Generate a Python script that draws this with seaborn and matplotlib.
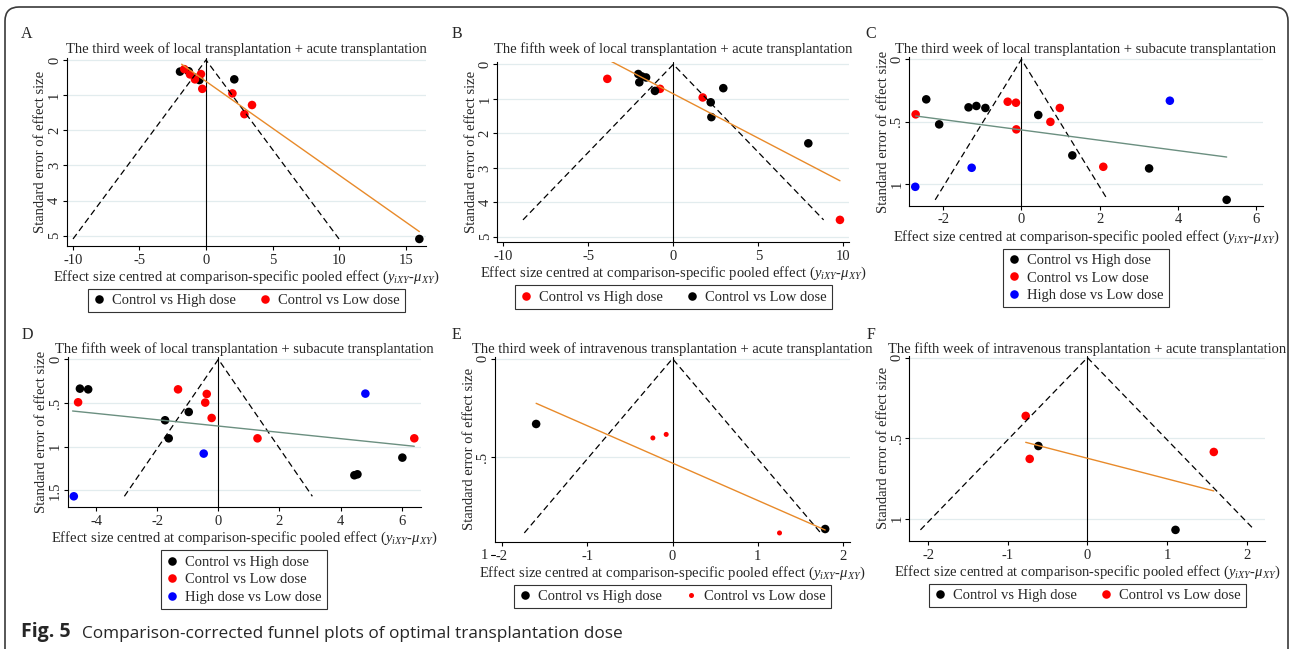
import numpy as np
import pandas as pd
import matplotlib
matplotlib.use("Agg")
import matplotlib.pyplot as plt
import seaborn as sns
from matplotlib.lines import Line2D
from matplotlib.patches import FancyBboxPatch
from matplotlib.transforms import IdentityTransform, blended_transform_factory

# group names
HIGH = "Control vs High dose"
LOW = "Control vs Low dose"
HL = "High dose vs Low dose"

# panel A: third week, local + acute
A_HIGH_X = [-1.95, -1.3, -0.5, 2.12, 16.0]
A_HIGH_SE = [0.33, 0.32, 0.57, 0.55, 5.09]
A_LOW_X = [-1.63, -1.2, -0.83, -0.38, -0.28, 1.98, 3.45, 2.88]
A_LOW_SE = [0.26, 0.41, 0.55, 0.40, 0.82, 0.95, 1.28, 1.54]
A_FIT_X = [-1.83, 16.0]
A_FIT_SE = [0.12, 4.88]

# panel B: fifth week, local + acute (colours swapped in the original)
B_HIGH_X = [-3.88, -0.78, 1.73, 9.80]
B_HIGH_SE = [0.42, 0.71, 0.96, 4.51]
B_LOW_X = [-2.06, -2.0, -1.6, -1.85, -1.08, 2.2, 2.24, 2.94, 7.94]
B_LOW_SE = [0.28, 0.52, 0.38, 0.35, 0.77, 1.10, 1.53, 0.69, 2.29]
B_FIT_X = [-3.88, 9.80]
B_FIT_SE = [-0.145, 3.375]

# panel C: third week, local + subacute
C_HIGH_X = [-2.43, -2.10, -1.35, -1.15, -0.92, 0.43, 1.30, 3.26, 5.24]
C_HIGH_SE = [0.32, 0.52, 0.384, 0.373, 0.389, 0.445, 0.768, 0.872, 1.123]
C_LOW_X = [-2.70, -0.35, -0.14, -0.13, 0.74, 0.98, 2.09]
C_LOW_SE = [0.44, 0.339, 0.347, 0.56, 0.50, 0.389, 0.859]
C_HL_X = [-2.71, -1.27, 3.79]
C_HL_SE = [1.019, 0.867, 0.331]
C_FIT_X = [-2.70, 5.24]
C_FIT_SE = [0.453, 0.781]

# panel D: fifth week, local + subacute
D_HIGH_X = [-4.53, -4.26, -1.745, -1.625, -0.97, 4.45, 4.55, 6.02]
D_HIGH_SE = [0.336, 0.344, 0.698, 0.905, 0.603, 1.328, 1.317, 1.126]
D_LOW_X = [-4.59, -1.32, -0.38, -0.43, -0.22, 1.28, 6.41]
D_LOW_SE = [0.492, 0.344, 0.397, 0.496, 0.672, 0.905, 0.905]
D_HL_X = [-4.73, -0.48, 4.81]
D_HL_SE = [1.569, 1.08, 0.393]
D_FIT_X = [-4.77, 6.41]
D_FIT_SE = [0.592, 0.996]

# panel E: third week, intravenous + acute
E_HIGH_X = [-1.598, 1.789]
E_HIGH_SE = [0.332, 0.866]
E_LOW_X = [-0.23, -0.074, 1.254]
E_LOW_SE = [0.403, 0.385, 0.886]
E_FIT_X = [-1.598, 1.789]
E_FIT_SE = [0.227, 0.871]

# panel F: fifth week, intravenous + acute
F_HIGH_X = [-0.616, 1.106]
F_HIGH_SE = [0.549, 1.070]
F_LOW_X = [-0.775, -0.725, 1.587]
F_LOW_SE = [0.362, 0.629, 0.586]
F_FIT_X = [-0.775, 1.587]
F_FIT_SE = [0.526, 0.828]

# ticks
A_XTICKS = [-10, -5, 0, 5, 10, 15]
A_YTICKS = [0, 1, 2, 3, 4, 5]
B_XTICKS = [-10, -5, 0, 5, 10]
B_YTICKS = [0, 1, 2, 3, 4, 5]
C_XTICKS = [-2, 0, 2, 4, 6]
C_YTICKS = [0, 0.5, 1]
C_YLABELS = ["0", ".5", "1"]
D_XTICKS = [-4, -2, 0, 2, 4, 6]
D_YTICKS = [0, 0.5, 1, 1.5]
D_YLABELS = ["0", ".5", "1", "1.5"]
E_XTICKS = [-2, -1, 0, 1, 2]
E_YTICKS = [0, 0.5]
E_YLABELS = ["0", ".5"]
F_XTICKS = [-2, -1, 0, 1, 2]
F_YTICKS = [0, 0.5, 1]
F_YLABELS = ["0", ".5", "1"]

TITLES = [
    "The third week of local transplantation + acute transplantation",
    "The fifth week of local transplantation + acute transplantation",
    "The third week of local transplantation + subacute transplantation",
    "The fifth week of local transplantation + subacute transplantation",
    "The third week of intravenous transplantation + acute transplantation",
    "The fifth week of intravenous transplantation + acute transplantation",
]

BLACK, RED, BLUE = "#000000", "#ff0000", "#0000ff"
ORANGE, GREEN = "#e88a2a", "#6b8f80"
BIG, SMALL = 38, 13

W, H = 1290, 649
sns.set_style("ticks")
plt.rcParams["font.family"] = ["Liberation Serif", "DejaVu Serif"]
plt.rcParams["mathtext.fontset"] = "custom"
plt.rcParams["mathtext.rm"] = "Liberation Serif"
plt.rcParams["mathtext.it"] = "Liberation Serif:italic"
FS = 10.5

fig = plt.figure(figsize=(W / 100, H / 100), dpi=100)

panels = [
    dict(letter="A", lpos=(21, 34), tbase=52.5, box=(66.7, 426, 58, 246), xlim=(-10.45, 16.5), ylim=(5.29, -0.057),
         xt=A_XTICKS, yt=A_YTICKS, ytl=[str(v) for v in A_YTICKS],
         groups=[(HIGH, BLACK, BIG, A_HIGH_X, A_HIGH_SE), (LOW, RED, BIG, A_LOW_X, A_LOW_SE)],
         fit=(A_FIT_X, A_FIT_SE, ORANGE), ncol=2),
    dict(letter="B", lpos=(452, 34), tbase=53, box=(497.3, 849.3, 62.3, 242.3), xlim=(-10.35, 10.35), ylim=(5.16, -0.06),
         xt=B_XTICKS, yt=B_YTICKS, ytl=[str(v) for v in B_YTICKS],
         groups=[(HIGH, RED, BIG, B_HIGH_X, B_HIGH_SE), (LOW, BLACK, BIG, B_LOW_X, B_LOW_SE)],
         fit=(B_FIT_X, B_FIT_SE, ORANGE), ncol=2),
    dict(letter="C", lpos=(865, 34), tbase=53, box=(909, 1262.7, 57.3, 205.7), xlim=(-2.87, 6.16), ylim=(1.17, -0.016),
         xt=C_XTICKS, yt=C_YTICKS, ytl=C_YLABELS,
         groups=[(HIGH, BLACK, BIG, C_HIGH_X, C_HIGH_SE), (LOW, RED, BIG, C_LOW_X, C_LOW_SE),
                 (HL, BLUE, BIG, C_HL_X, C_HL_SE)],
         fit=(C_FIT_X, C_FIT_SE, GREEN), ncol=1),
    dict(letter="D", lpos=(22, 335), tbase=352.5, box=(67.7, 420.7, 357.3, 507.3), xlim=(-4.93, 6.62), ylim=(1.695, -0.023),
         xt=D_XTICKS, yt=D_YTICKS, ytl=D_YLABELS,
         groups=[(HIGH, BLACK, BIG, D_HIGH_X, D_HIGH_SE), (LOW, RED, BIG, D_LOW_X, D_LOW_SE),
                 (HL, BLUE, BIG, D_HL_X, D_HL_SE)],
         fit=(D_FIT_X, D_FIT_SE, GREEN), ncol=1),
    dict(letter="E", lpos=(452, 335), tbase=352.5, box=(495, 850, 356.7, 542), xlim=(-2.08, 2.08), ylim=(0.932, -0.01),
         xt=E_XTICKS, yt=E_YTICKS, ytl=E_YLABELS,
         groups=[(HIGH, BLACK, BIG, E_HIGH_X, E_HIGH_SE), (LOW, RED, SMALL, E_LOW_X, E_LOW_SE)],
         fit=(E_FIT_X, E_FIT_SE, ORANGE), ncol=2, extra=(1.0, "1")),
    dict(letter="F", lpos=(867, 335), tbase=352.5, box=(909.3, 1265, 355.7, 541), xlim=(-2.237, 2.23), ylim=(1.139, -0.012),
         xt=F_XTICKS, yt=F_YTICKS, ytl=F_YLABELS,
         groups=[(HIGH, BLACK, BIG, F_HIGH_X, F_HIGH_SE), (LOW, RED, BIG, F_LOW_X, F_LOW_SE)],
         fit=(F_FIT_X, F_FIT_SE, ORANGE), ncol=2),
]

xlab = "Effect size centred at comparison-specific pooled effect (" + r"$y_{iXY}$" + "-" + r"$\mu_{XY}$" + ")"

for p, title in zip(panels, TITLES):
    x0, x1, yt_px, yb_px = p["box"]
    ax = fig.add_axes([x0 / W, 1 - yb_px / H, (x1 - x0) / W, (yb_px - yt_px) / H])

    rows = []
    for name, col, size, xs, ses in p["groups"]:
        for xv, sv in zip(xs, ses):
            rows.append({"effect": xv, "se": sv, "group": name})
    df = pd.DataFrame(rows)
    pal = {g[0]: g[1] for g in p["groups"]}
    sizes = {g[0]: g[2] for g in p["groups"]}
    sns.scatterplot(data=df, x="effect", y="se", hue="group", palette=pal, size="group", sizes=sizes,
                    linewidth=0, legend=False, ax=ax, zorder=3)

    # pseudo 95% limits around zero
    se_max = df["se"].max()
    ax.plot([-1.96 * se_max, 0, 1.96 * se_max], [se_max, 0, se_max], color="k", lw=0.9,
            ls=(0, (5, 3)), zorder=4)
    ax.axvline(0, color="k", lw=0.8, zorder=2)
    fx, fse, fcol = p["fit"]
    sns.lineplot(x=fx, y=fse, color=fcol, lw=1.0, ax=ax, zorder=5)

    ax.set_xlim(*p["xlim"])
    ax.set_ylim(*p["ylim"])
    ax.set_xticks(p["xt"])
    ax.set_xticklabels([str(v) for v in p["xt"]])
    ax.set_yticks(p["yt"])
    ax.set_yticklabels(p["ytl"], rotation=90, va="center")
    for v in p["yt"]:
        ax.axhline(v, color="#e2ecee", lw=0.9, zorder=0)
    sns.despine(ax=ax)
    for s in ["left", "bottom"]:
        ax.spines[s].set_linewidth(0.8)
        ax.spines[s].set_color("k")
    ax.tick_params(axis="both", direction="out", length=3, width=0.8, labelsize=FS, color="k")
    ax.tick_params(axis="x", pad=2.5)
    ax.tick_params(axis="y", pad=1)
    ax.set_xlabel(xlab, fontsize=FS, labelpad=1.5)
    ax.set_ylabel("Standard error of effect size", fontsize=FS, labelpad=0.5)
    fig.text(((x0 + x1) / 2) / W, 1 - p["tbase"] / H, title, fontsize=FS, ha="center", va="baseline")

    if "extra" in p:
        yv, lab = p["extra"]
        tr = blended_transform_factory(ax.transAxes, ax.transData)
        axw = x1 - x0
        ax.plot([0, -4 / axw], [yv, yv], transform=tr, color="k", lw=0.8, clip_on=False)
        ax.text(-7 / axw, yv, lab, transform=tr, ha="right", va="center",
                fontsize=FS, clip_on=False)

    handles = [Line2D([], [], marker="o", ls="", color=g[1], markeredgewidth=0,
                      markersize=np.sqrt(g[2]) * 1.0) for g in p["groups"]]
    leg = ax.legend(handles, [g[0] for g in p["groups"]], loc="upper center",
                    bbox_to_anchor=(((x0 + x1) / 2) / W, 1 - (yb_px + 43) / H),
                    bbox_transform=fig.transFigure, ncol=p["ncol"], fontsize=FS, frameon=True,
                    fancybox=False, edgecolor="#333333", framealpha=1, borderpad=0.35,
                    handlelength=0.8, handletextpad=0.5, columnspacing=1.6, labelspacing=0.3,
                    borderaxespad=0)
    leg.get_frame().set_linewidth(0.8)

    fig.text(p["lpos"][0] / W, 1 - p["lpos"][1] / H, p["letter"], fontsize=11.5, ha="left", va="center")

# caption
cap_font = ["Open Sans", "DejaVu Sans"]
t1 = fig.text(21 / W, 1 - 637.5 / H, "Fig. 5", fontsize=14, fontweight="bold", family=cap_font,
              ha="left", va="baseline")
fig.canvas.draw()
bb = t1.get_window_extent(fig.canvas.get_renderer())
fig.text((bb.x1 + 11) / W, 1 - 637.5 / H, "Comparison-corrected funnel plots of optimal transplantation dose",
         fontsize=12.4, family=cap_font, ha="left", va="baseline")

# rounded page frame
frame = FancyBboxPatch((5, -30), 1283, H - 7 + 30, boxstyle="round,pad=0,rounding_size=14",
                       transform=IdentityTransform(), fill=False, ec="#3a3a3a", lw=1.2)
fig.add_artist(frame)

fig.savefig("out.png", dpi=100)
